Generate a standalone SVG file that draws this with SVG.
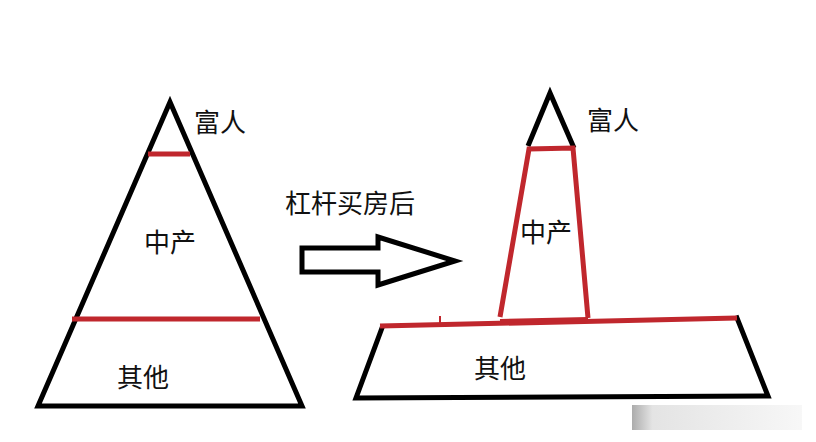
<svg xmlns="http://www.w3.org/2000/svg" width="816" height="442" viewBox="0 0 816 442">
<defs>
<style>
.blk{fill:none;stroke:#000;stroke-width:5;stroke-linejoin:miter;stroke-linecap:square}
.red{fill:none;stroke:#c0272d;stroke-width:5;stroke-linecap:butt}
.lbl{font-family:"Noto Sans CJK SC","Noto Sans",sans-serif;font-size:26px;fill:#111;text-anchor:middle}
</style>
<linearGradient id="wm" x1="0" y1="0" x2="1" y2="0">
<stop offset="0" stop-color="#888"/>
<stop offset="0.12" stop-color="#d8d8d8"/>
<stop offset="1" stop-color="#f4f4f4"/>
</linearGradient>
</defs>
<rect width="816" height="442" fill="#fff"/>
<g id="left-pyramid">
<path class="blk" d="M38 406 L170 102 L302 406 Z"/>
<line class="red" x1="148" y1="154" x2="190" y2="154"/>
<line class="red" x1="72" y1="319" x2="260" y2="319"/>
<text class="lbl" x="220" y="132">富人</text>
<text class="lbl" x="170" y="252">中产</text>
<text class="lbl" x="143" y="387">其他</text>
</g>
<g id="arrow">
<path class="blk" d="M302 248 L378 248 L378 237 L455 261 L378 285 L378 272 L302 272 Z"/>
<text class="lbl" x="350" y="213">杠杆买房后</text>
</g>
<g id="right-shape">
<path class="blk" d="M382 328 L356 398 L768 396 L737 318"/>
<path class="blk" d="M528 146 L550 93 L574 148" style="stroke-linecap:butt"/>
<path class="red" d="M500 317 L529 149 L573 148 L588 318"/>
<path class="red" d="M380 326 L737 318"/>
<path class="red" d="M500 321 L588 319" style="stroke-width:4"/>
<line class="red" x1="440" y1="316" x2="440" y2="325" style="stroke-width:2"/>
<text class="lbl" x="613" y="130">富人</text>
<text class="lbl" x="546" y="242">中产</text>
<text class="lbl" x="500" y="378">其他</text>
</g>
<g id="watermark">
<rect x="632" y="405" width="170" height="25" fill="url(#wm)" opacity="0.7"/>
</g>
</svg>
